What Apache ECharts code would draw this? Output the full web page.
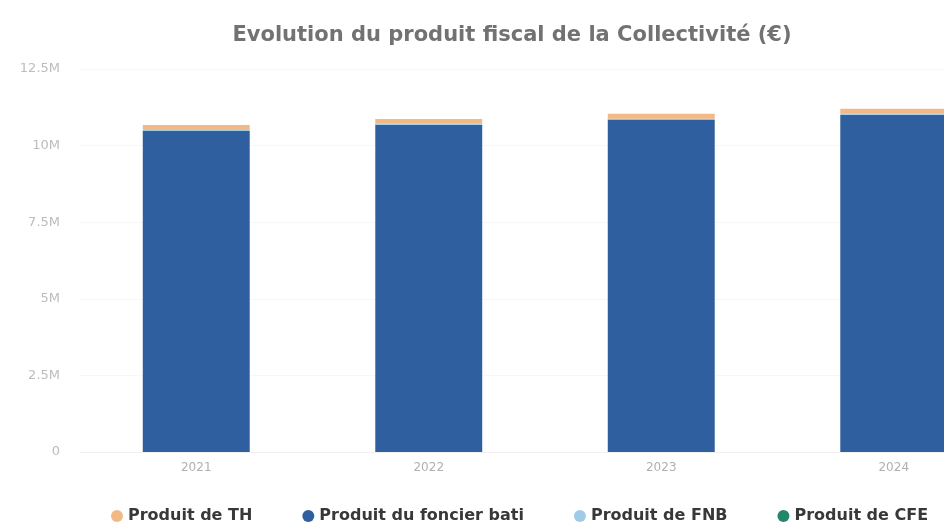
<!DOCTYPE html>
<html>
<head>
<meta charset="utf-8">
<script src="https://cdn.jsdelivr.net/npm/echarts@6/dist/echarts.min.js"></script>
<style>
  html, body { margin: 0; padding: 0; background: #fff; overflow: hidden; }
  #chart { width: 1024px; height: 523px; }
</style>
</head>
<body>
<div id="chart"></div>
<script>
const years = ['2021', '2022', '2023', '2024']
const produitTH = [160000, 160000, 160000, 160000]
const foncierBati = [10480000, 10680000, 10850000, 11010000]
const produitFNB = [30000, 30000, 30000, 30000]
const produitCFE = [0, 0, 0, 0]
const yTicks = [0, 2500000, 5000000, 7500000, 10000000, 12500000]

// the source chart is wider than the window, the right edge gets cut off
const chart = echarts.init(document.getElementById('chart'))

function fmt (v) {
  if (v === 0) return '0'
  return (v / 1000000) + 'M'
}

const bar = (name, data, color) => ({
  name: name,
  type: 'bar',
  stack: 'total',
  barWidth: '46%',
  data: data,
  itemStyle: { color: color }
})

chart.setOption({
  animation: false,
  title: {
    text: 'Evolution du produit fiscal de la Collectivité (€)',
    left: 'center',
    top: 20,
    textStyle: {
      fontFamily: 'DejaVu Sans',
      fontWeight: 'bold',
      fontSize: 21,
      color: '#727272'
    }
  },
  legend: {
    top: 503,
    left: 106,
    itemGap: 50,
    icon: 'circle',
    itemWidth: 12,
    itemHeight: 12,
    textStyle: {
      fontFamily: 'DejaVu Sans',
      fontWeight: 'bold',
      fontSize: 16,
      color: '#383838'
    },
    data: ['Produit de TH', 'Produit du foncier bati', 'Produit de FNB', 'Produit de CFE']
  },
  grid: {
    left: 80,
    top: 69,
    right: 14,
    height: 383
  },
  xAxis: {
    type: 'category',
    data: years,
    axisLine: { lineStyle: { color: '#f0f0f0' } },
    axisTick: { show: false },
    axisLabel: { color: '#b0b0b0', fontFamily: 'DejaVu Sans', fontSize: 12, margin: 10 }
  },
  yAxis: {
    type: 'value',
    min: 0,
    max: yTicks[yTicks.length - 1],
    interval: 2500000,
    axisLabel: { color: '#bcbcbc', fontFamily: 'DejaVu Sans', fontSize: 13, margin: 20, formatter: fmt },
    splitLine: { lineStyle: { color: '#f7f7f7' } }
  },
  series: [
    bar('Produit de CFE', produitCFE, '#23866b'),
    bar('Produit du foncier bati', foncierBati, '#2f5f9f'),
    bar('Produit de FNB', produitFNB, '#9fcbe8'),
    bar('Produit de TH', produitTH, '#f2b886')
  ]
})
</script>
</body>
</html>
